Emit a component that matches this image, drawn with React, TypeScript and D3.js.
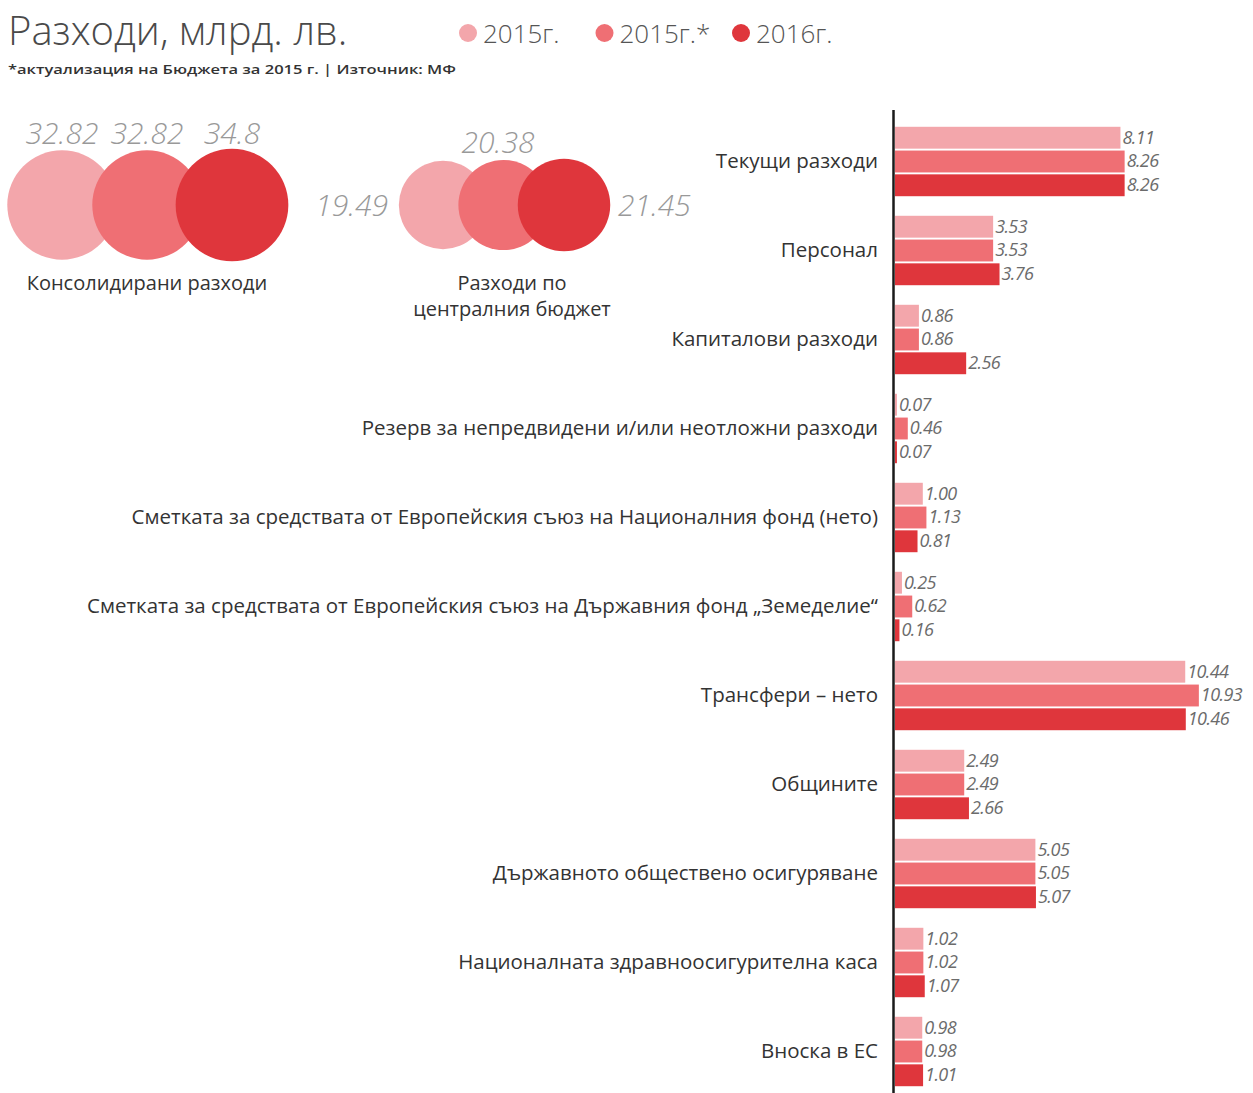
import React from "react";
import * as d3 from "d3";

const series = ["2015г.", "2015г.*", "2016г."];
const colors = ["#f3a6ab", "#ef6f74", "#df363c"];

const categories = [
  "Текущи разходи",
  "Персонал",
  "Капиталови разходи",
  "Резерв за непредвидени и/или неотложни разходи",
  "Сметката за средствата от Европейския съюз на Националния фонд (нето)",
  "Сметката за средствата от Европейския съюз на Държавния фонд „Земеделие“",
  "Трансфери – нето",
  "Общините",
  "Държавното обществено осигуряване",
  "Националната здравноосигурителна каса",
  "Вноска в ЕС",
];

const values2015 = [8.11, 3.53, 0.86, 0.07, 1.0, 0.25, 10.44, 2.49, 5.05, 1.02, 0.98];
const values2015u = [8.26, 3.53, 0.86, 0.46, 1.13, 0.62, 10.93, 2.49, 5.05, 1.02, 0.98];
const values2016 = [8.26, 3.76, 2.56, 0.07, 0.81, 0.16, 10.46, 2.66, 5.07, 1.07, 1.01];
const valueLabels2015 = ["8.11", "3.53", "0.86", "0.07", "1.00", "0.25", "10.44", "2.49", "5.05", "1.02", "0.98"];
const valueLabels2015u = ["8.26", "3.53", "0.86", "0.46", "1.13", "0.62", "10.93", "2.49", "5.05", "1.02", "0.98"];
const valueLabels2016 = ["8.26", "3.76", "2.56", "0.07", "0.81", "0.16", "10.46", "2.66", "5.07", "1.07", "1.01"];

const consolidated = [32.82, 32.82, 34.8];
const consolidatedLabels = ["32.82", "32.82", "34.8"];
const central = [19.49, 20.38, 21.45];
const centralLabels = ["19.49", "20.38", "21.45"];

const FONT = "'Open Sans', 'DejaVu Sans', sans-serif";

export default function App() {
  const W = 1253;
  const H = 1093;
  const allValues = [values2015, values2015u, values2016];
  const allLabels = [valueLabels2015, valueLabels2015u, valueLabels2016];

  const x = d3.scaleLinear().domain([0, 11]).range([895, 895 + 27.8 * 11]);
  const y = d3.scaleBand<string>().domain(categories).range([117, 1096]).paddingInner(0.22).paddingOuter(0.11);
  const ySub = d3.scaleBand<string>().domain(series).range([0, y.bandwidth()]).paddingInner(0.08);

  const r = d3.scaleSqrt().domain([0, 35]).range([0, 56.5]);

  const g1x = d3.scalePoint<number>().domain([0, 1, 2]).range([62, 232]);
  const g2x = d3.scalePoint<number>().domain([0, 1, 2]).range([443, 564]);
  const cy = 205;

  const legendX = d3.scalePoint<number>().domain([0, 1, 2]).range([468, 741]);

  return (
    <svg width={W} height={H} style={{ position: "absolute", left: 0, top: 0, background: "#fff" }}>
      <rect width={W} height={H} fill="#fff" />
      {/* Title */}
      <text x={8} y={45} fontFamily={FONT} fontWeight={300} fontSize={40} fill="#4a4a4a">
        Разходи, млрд. лв.
      </text>
      <text x={8} y={74} fontFamily={FONT} fontWeight={600} fontSize={12.5} fill="#333" textLength={448} lengthAdjust="spacingAndGlyphs">
        *актуализация на Бюджета за 2015 г. | Източник: МФ
      </text>

      {/* Legend */}
      {series.map((s, i) => (
        <g key={s}>
          <circle cx={legendX(i)} cy={33} r={9} fill={colors[i]} />
          <text x={(legendX(i) as number) + 15} y={43} fontFamily={FONT} fontWeight={300} fontSize={26} fill="#555">
            {s}
          </text>
        </g>
      ))}

      {/* Consolidated bubbles */}
      {consolidated.map((v, i) => (
        <circle key={"c" + i} cx={g1x(i)} cy={cy} r={r(v)} fill={colors[i]} />
      ))}
      {consolidated.map((v, i) => (
        <text key={"cl" + i} x={g1x(i)} y={144} textAnchor="middle" fontFamily={FONT} fontStyle="italic" fontWeight={300} fontSize={30} fill="#999">
          {consolidatedLabels[i]}
        </text>
      ))}
      <text x={147} y={290} textAnchor="middle" fontFamily={FONT} fontSize={20} fill="#333">
        Консолидирани разходи
      </text>

      {/* Central budget bubbles */}
      {central.map((v, i) => (
        <circle key={"b" + i} cx={g2x(i)} cy={cy} r={r(v) + 2} fill={colors[i]} />
      ))}
      <text x={388} y={216} textAnchor="end" fontFamily={FONT} fontStyle="italic" fontWeight={300} fontSize={30} fill="#999">
        {centralLabels[0]}
      </text>
      <text x={498} y={153} textAnchor="middle" fontFamily={FONT} fontStyle="italic" fontWeight={300} fontSize={30} fill="#999">
        {centralLabels[1]}
      </text>
      <text x={618} y={216} textAnchor="start" fontFamily={FONT} fontStyle="italic" fontWeight={300} fontSize={30} fill="#999">
        {centralLabels[2]}
      </text>
      <text x={512} y={290} textAnchor="middle" fontFamily={FONT} fontSize={20} fill="#333">
        Разходи по
      </text>
      <text x={512} y={316} textAnchor="middle" fontFamily={FONT} fontSize={20} fill="#333">
        централния бюджет
      </text>

      {/* Bars */}
      {categories.map((c, ci) => (
        <g key={c} transform={`translate(0,${y(c)})`}>
          {series.map((s, si) => {
            const v = allValues[si][ci];
            const yy = ySub(s) as number;
            return (
              <g key={s}>
                <rect x={x(0)} y={yy} width={x(v) - x(0)} height={ySub.bandwidth()} fill={colors[si]} />
                <text
                  x={x(v) + 2}
                  y={yy + ySub.bandwidth() / 2 + 6}
                  fontFamily={FONT}
                  fontStyle="italic"
                  fontSize={18}
                  letterSpacing={-0.6}
                  fill="#6b6b6b"
                >
                  {allLabels[si][ci]}
                </text>
              </g>
            );
          })}
          <text
            x={878}
            y={y.bandwidth() / 2 + 7}
            textAnchor="end"
            fontFamily={FONT}
            fontSize={20.5}
            fill="#333"
          >
            {c}
          </text>
        </g>
      ))}

      {/* Axis line */}
      <line x1={893.5} x2={893.5} y1={110} y2={H} stroke="#1a1a1a" strokeWidth={2.5} />
    </svg>
  );
}
